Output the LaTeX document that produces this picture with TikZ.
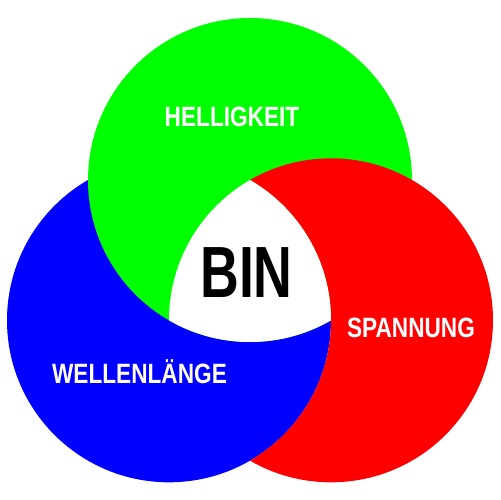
\documentclass[tikz,border=0pt]{standalone}
\usepackage{fontspec}
\newfontfamily\condfont[FakeStretch=0.81]{Liberation Sans}
\newfontfamily\bincondfont[FakeStretch=0.74]{Liberation Sans}
\definecolor{vgreen}{RGB}{0,255,0}
\definecolor{vblue}{RGB}{0,0,255}
\definecolor{vred}{RGB}{255,0,0}
\begin{document}
\begin{tikzpicture}[x=0.02cm,y=-0.02cm,
  lbl/.style={text=white,font=\condfont\bfseries\fontsize{15.9pt}{16pt}\selectfont,inner sep=0pt},
  binlbl/.style={text=black,font=\bincondfont\bfseries\fontsize{41.3pt}{42pt}\selectfont,inner sep=0pt}]
\useasboundingbox (0,0) rectangle (500,500);
\def\rr{162}
\coordinate (G) at (250,180);
\coordinate (B) at (169,320.3);
\coordinate (R) at (331,320.3);
% blue circle, then green circle over it
\fill[vblue] (B) circle[radius=\rr];
\fill[vgreen] (G) circle[radius=\rr];
% red where it is outside the blue circle
\begin{scope}[even odd rule]
  \clip (-20,-20) rectangle (520,520) (B) circle[radius=\rr];
  \fill[vred] (R) circle[radius=\rr];
\end{scope}
% white centre (common part of all three)
\begin{scope}
  \clip (G) circle[radius=\rr];
  \clip (R) circle[radius=\rr];
  \fill[white] (B) circle[radius=\rr];
\end{scope}
\node[lbl] (hell) at (232,117) {HELLIGKEIT};
\node[lbl] (well) at (139.5,372) {WELLENLÄNGE};
\node[lbl] (span) at (411,328) {SPANNUNG};
\node[binlbl] (bin) at (246.5,273) {BIN};
\end{tikzpicture}
\end{document}
